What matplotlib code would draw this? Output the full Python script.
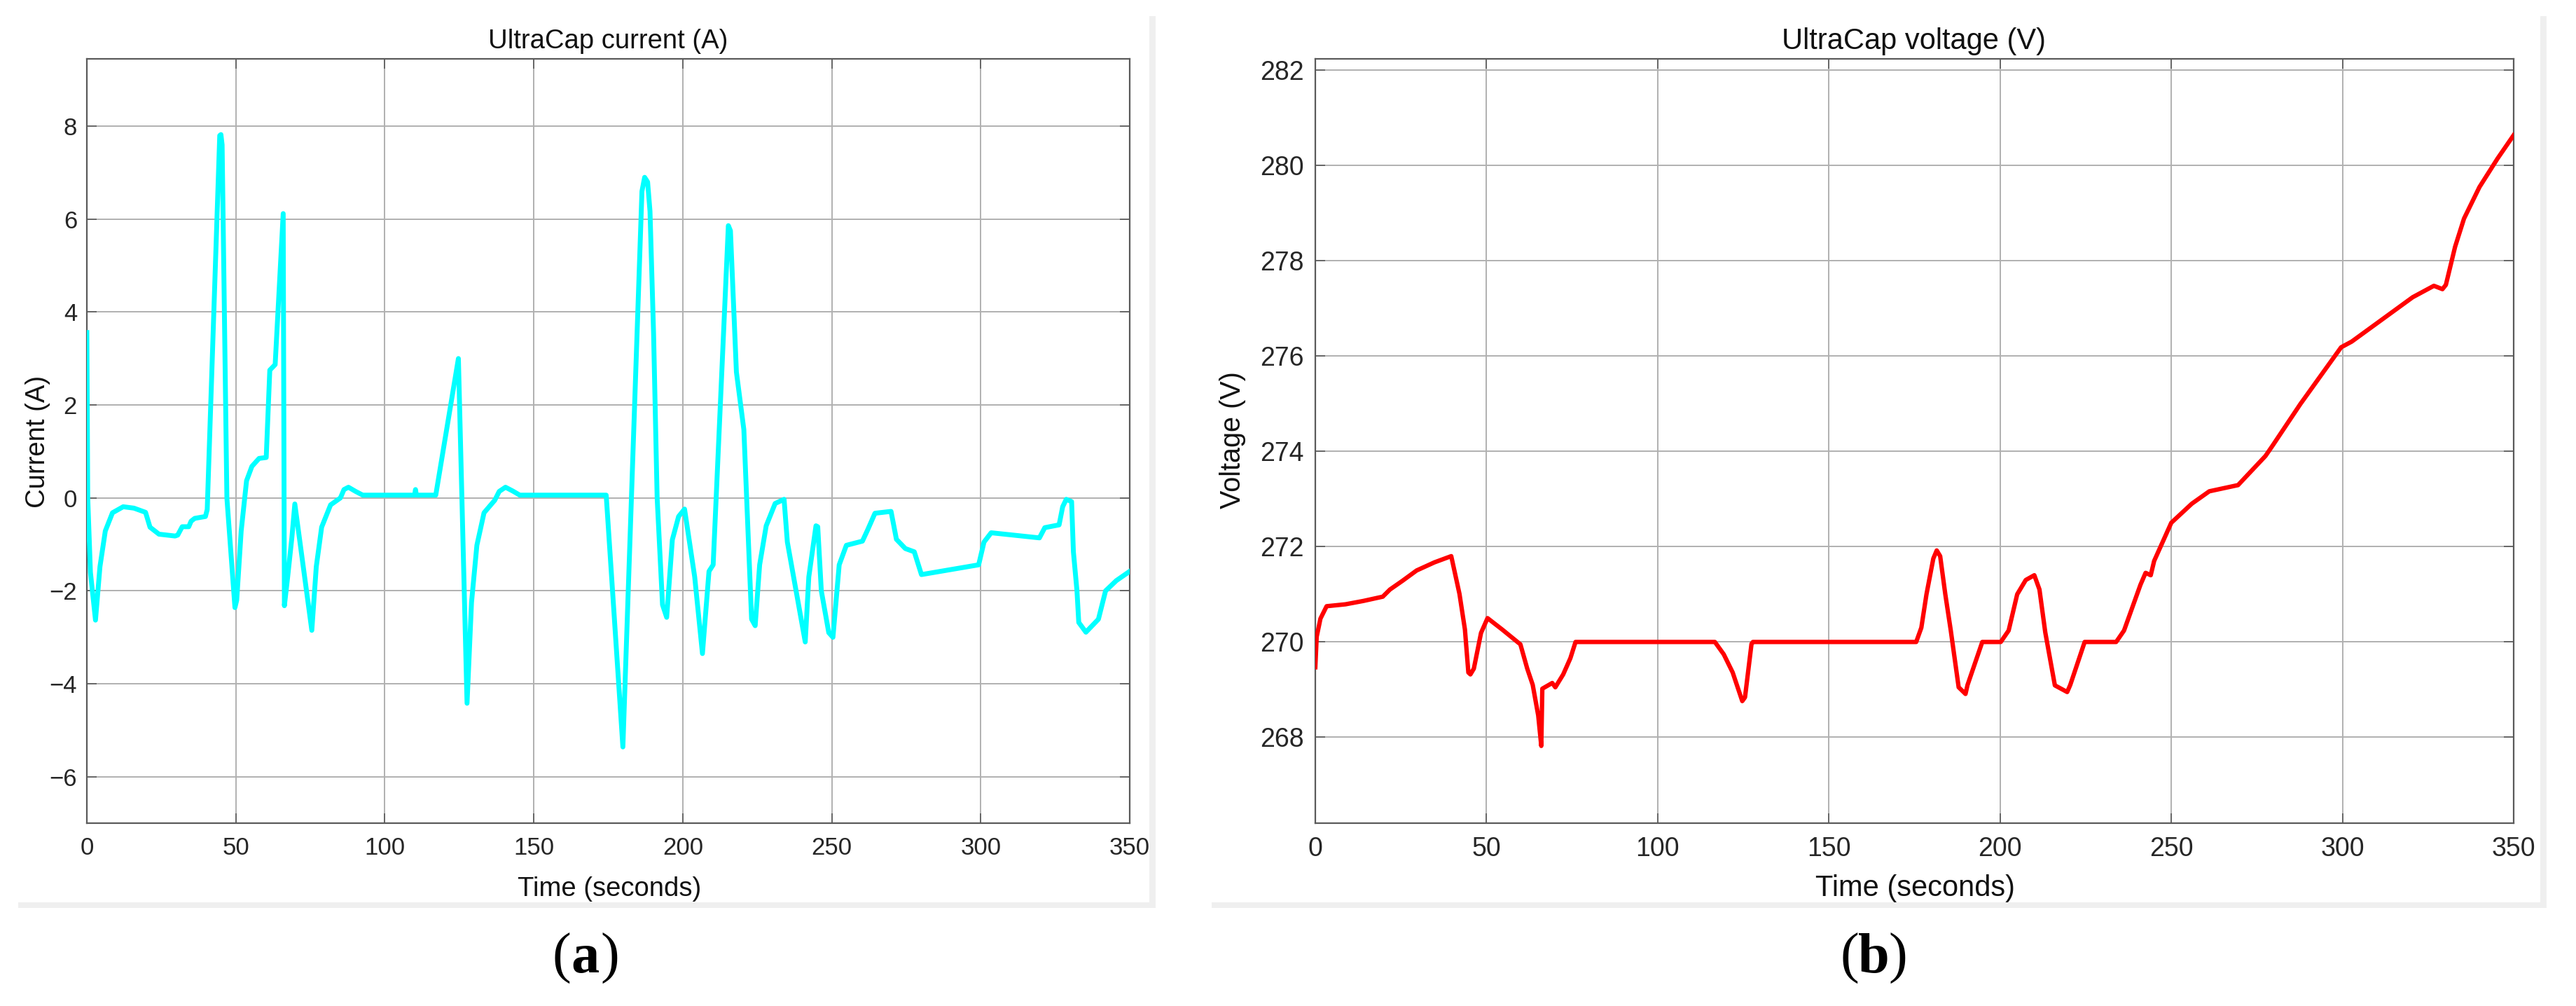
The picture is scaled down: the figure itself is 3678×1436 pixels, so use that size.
import matplotlib
matplotlib.use("Agg")
import matplotlib.pyplot as plt
from matplotlib.patches import Rectangle

# ---------------- data ----------------
time_current = [0, 0.3, 1.2, 2.9, 4.4, 6.2, 8.6, 12.2, 15.8, 19.7, 21.2, 24.2, 29.6, 30.5,
                32, 34.2, 35.0, 36.2, 39.8, 40.4, 44.6, 45.0, 45.4, 47, 49.7, 50.3, 51.8,
                53.6, 55.4, 57.8, 60.2, 61.4, 63.2, 65.9, 66.3, 67.4, 68.8, 69.8, 75.5,
                77, 78.8, 81.8, 85.1, 86.3, 87.8, 90.2, 92.6, 110, 110.3, 110.6, 117.1,
                124.7, 127.6, 129.1, 130.9, 133.3, 136.9, 138.4, 140.5, 142.9, 145.3,
                174.3, 179.9, 186.3, 187.2, 188.2, 189, 190.2, 191.4, 193.2, 194.6,
                196.5, 198.6, 200.6, 204, 206.6, 208.8, 210.2, 215.3, 216, 218, 220.5,
                223.1, 224.3, 225.8, 228, 231, 234, 235.1, 241.1, 242.3, 244.7, 245.3,
                246.5, 249, 250.4, 252.5, 254.9, 260.3, 262.1, 264.5, 269.9, 271.7,
                274.7, 277.7, 280.1, 299.3, 301.1, 303.5, 319.7, 321.5, 326.3, 327.5,
                328.7, 330.5, 331.1, 332.3, 332.9, 335.3, 339.5, 341.9, 345.5, 350]
current = [3.56, 0.0, -1.6, -2.63, -1.48, -0.71, -0.32, -0.19, -0.22, -0.31, -0.63, -0.78,
           -0.82, -0.8, -0.62, -0.62, -0.5, -0.44, -0.4, -0.25, 7.8, 7.82, 7.6, 0.0, -2.36,
           -2.2, -0.71, 0.37, 0.68, 0.85, 0.87, 2.75, 2.87, 6.12, -2.32, -1.7, -0.86,
           -0.13, -2.85, -1.48, -0.63, -0.15, 0.0, 0.18, 0.23, 0.14, 0.06, 0.06, 0.18,
           0.06, 0.06, 3.0, -4.42, -2.25, -1.02, -0.32, -0.05, 0.14, 0.23, 0.15, 0.06,
           0.06, -5.36, 6.6, 6.9, 6.8, 6.17, 3.54, 0.0, -2.3, -2.57, -0.9, -0.4, -0.24,
           -1.7, -3.35, -1.58, -1.44, 5.86, 5.75, 2.71, 1.47, -2.61, -2.75, -1.44, -0.6,
           -0.12, -0.03, -0.95, -3.1, -1.7, -0.6, -0.62, -2.0, -2.9, -3.0, -1.44, -1.02,
           -0.93, -0.68, -0.33, -0.29, -0.89, -1.09, -1.16, -1.65, -1.44, -0.95, -0.75,
           -0.86, -0.64, -0.58, -0.19, -0.03, -0.08, -1.16, -2.0, -2.68, -2.89, -2.61,
           -2.0, -1.78, -1.58]

time_voltage = [0, 0.4, 1.5, 3.3, 8.8, 14, 19.7, 21.8, 25.4, 29.6, 34.8, 39.7, 42.1, 43.7,
                44.7, 45.3, 46.3, 48.4, 50.3, 54.6, 59.9, 61.9, 63.5, 65.1, 66.0, 66.3,
                69.2, 70.1, 72.4, 74.5, 76, 116.7, 119.3, 121.9, 124.7, 125.5, 127.4,
                127.8, 175.5, 177, 178.5, 180.5, 181.5, 182.5, 184, 185.6, 187.9, 189.9,
                190.5, 194.8, 200.2, 202.5, 205, 207.5, 210, 211.5, 213.2, 216, 219.6,
                220.5, 224.7, 233.9, 236.2, 238, 241, 242.5, 244, 245, 250, 253, 256,
                261.1, 269.5, 277.5, 279.7, 287.7, 299.6, 302.7, 320.5, 326.7, 329.2,
                330.2, 332.9, 335.5, 340, 345.3, 350]
voltage = [269.47, 270.11, 270.49, 270.75, 270.79, 270.86, 270.95, 271.1, 271.28, 271.5,
           271.67, 271.8, 271.01, 270.26, 269.36, 269.32, 269.44, 270.19, 270.5, 270.26,
           269.95, 269.44, 269.1, 268.46, 267.82, 269.02, 269.14, 269.05, 269.32, 269.66,
           270.0, 270.0, 269.74, 269.36, 268.76, 268.84, 269.96, 270.0, 270.0, 270.3,
           271.0, 271.75, 271.92, 271.8, 271.0, 270.24, 269.05, 268.91, 269.1, 270.0,
           270.0, 270.24, 271.0, 271.3, 271.4, 271.1, 270.2, 269.09, 268.95, 269.1,
           270.0, 270.0, 270.24, 270.6, 271.2, 271.45, 271.4, 271.7, 272.5, 272.7,
           272.9, 273.16, 273.29, 273.9, 274.13, 274.99, 276.18, 276.3, 277.23, 277.47,
           277.4, 277.49, 278.29, 278.88, 279.54, 280.14, 280.63]

x_ticks = [0, 50, 100, 150, 200, 250, 300, 350]
current_ticks = [-6, -4, -2, 0, 2, 4, 6, 8]
voltage_ticks = [268, 270, 272, 274, 276, 278, 280, 282]
panel_letters = ['a', 'b']

# ---------------- figure ----------------
W, H = 3678, 1436
DPI = 100
plt.rcParams['font.family'] = ['Liberation Sans', 'DejaVu Sans']
fig = plt.figure(figsize=(W / DPI, H / DPI), dpi=DPI, facecolor='white')


def fx(px):
    return px / W


def fy(py):
    return 1 - py / H


# light grey frame strips (right and bottom edge) of each panel
for (x0, x1) in [(26, 1650), (1730, 3636)]:
    fig.add_artist(Rectangle((fx(x1 - 9), fy(1296)), 9 / W, (1296 - 23) / H,
                             transform=fig.transFigure, facecolor='#efefef',
                             edgecolor='none', zorder=0))
    fig.add_artist(Rectangle((fx(x0), fy(1296)), (x1 - x0) / W, 8 / H,
                             transform=fig.transFigure, facecolor='#efefef',
                             edgecolor='none', zorder=0))

TOP, BOT = 84, 1175
ax1 = fig.add_axes([fx(124), fy(BOT), (1613 - 124) / W, (BOT - TOP) / H])
ax2 = fig.add_axes([fx(1878), fy(BOT), (3589 - 1878) / W, (BOT - TOP) / H])

ax1.plot(time_current, current, color='#00ffff', lw=5.0, solid_joinstyle='round',
         zorder=3)
ax2.plot(time_voltage, voltage, color='#ff0000', lw=4.5, solid_joinstyle='round',
         zorder=3)

ax1.set_xlim(0, 350)
ax1.set_ylim(-7, 9.45)
ax2.set_xlim(0, 350)
ax2.set_ylim(266.2, 282.23)

ax1.set_yticks(current_ticks)
ax2.set_yticks(voltage_ticks)

for ax, fs, ypad in [(ax1, 25, 10), (ax2, 27, 11.5)]:
    ax.set_xticks(x_ticks)
    ax.grid(True, color='#b0b0b0', lw=1.4, zorder=0)
    ax.set_axisbelow(True)
    for s in ax.spines.values():
        s.set_color('#5a5a5a')
        s.set_linewidth(1.6)
    ax.tick_params(axis='both', which='both', direction='in', length=10, width=1.2,
                   color='#5a5a5a', top=True, right=True, labelsize=fs,
                   labelcolor='#262626')
    ax.tick_params(axis='y', pad=ypad)
    ax.tick_params(axis='x', pad=13.5)

# titles
fig.text(fx(868), fy(69), 'UltraCap current (A)', ha='center', va='baseline',
         fontsize=27.5, color='#111111')
fig.text(fx(2733), fy(70), 'UltraCap voltage (V)', ha='center', va='baseline',
         fontsize=30, color='#111111')

# x labels
fig.text(fx(870), fy(1279), 'Time (seconds)', ha='center', va='baseline',
         fontsize=27.5, color='#111111')
fig.text(fx(2735), fy(1279), 'Time (seconds)', ha='center', va='baseline',
         fontsize=30, color='#111111')

# y labels
fig.text(fx(54), fy(630), 'Current (A)', ha='center', va='center', rotation=90,
         fontsize=27.5, color='#111111')
fig.text(fx(1760), fy(628), 'Voltage (V)', ha='center', va='center', rotation=90,
         fontsize=28.5, color='#111111')

# panel letters: regular parentheses, bold letter
for letter, cx in zip(panel_letters, [836, 2675]):
    half = 21
    fig.text(fx(cx - half), fy(1388), '(', ha='right', va='baseline', fontsize=58,
             family='Liberation Serif', color='black')
    fig.text(fx(cx), fy(1388), letter, ha='center', va='baseline', fontsize=58,
             family='Liberation Serif', weight='bold', color='black')
    fig.text(fx(cx + half), fy(1388), ')', ha='left', va='baseline', fontsize=58,
             family='Liberation Serif', color='black')

fig.savefig('out.png', dpi=DPI, facecolor='white')
